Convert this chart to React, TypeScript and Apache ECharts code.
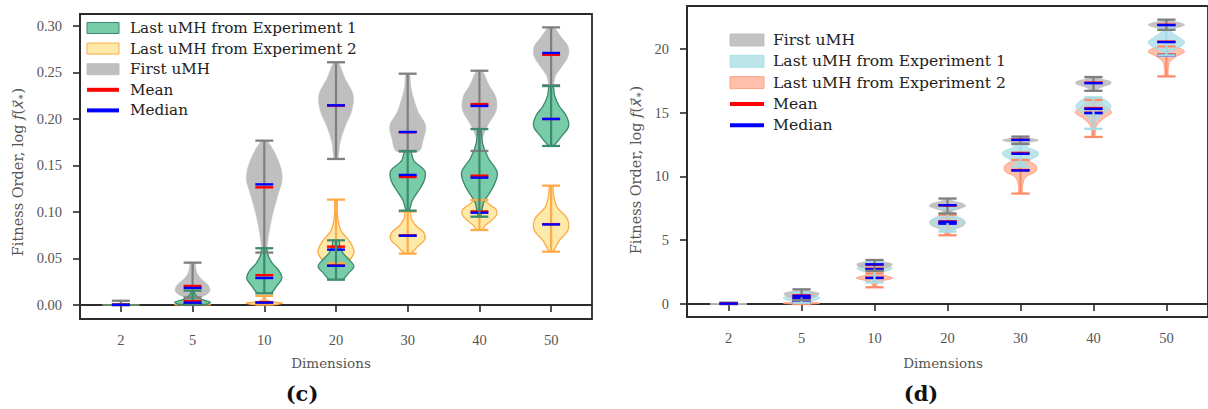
import React, { useEffect, useRef } from 'react';
import * as echarts from 'echarts';

const dimensions = ['2', '5', '10', '20', '30', '40', '50'];
const positions = [1, 2, 3, 4, 5, 6, 7];

const cYTicks = [0, 0.05, 0.1, 0.15, 0.2, 0.25, 0.3];
const dYTicks = [0, 5, 10, 15, 20];

// ---------- Panel (c) ----------
// First uMH
const cFirstMin = [0, 0.008, 0.0563, 0.157, 0.165, 0.1656, 0.2362];
const cFirstMax = [0.0045, 0.0455, 0.1767, 0.261, 0.2487, 0.2519, 0.2985];
const cFirstMean = [0.0008, 0.0204, 0.1265, 0.2143, 0.1858, 0.216, 0.269];
const cFirstMedian = [0.0004, 0.0183, 0.1297, 0.2147, 0.186, 0.214, 0.271];
const cFirstDensity = [
  [1, 0.2, 0.08, 0.05, 0.04, 0.03, 0.03],
  [0.4, 0.95, 0.9, 0.55, 0.28, 0.18, 0.12],
  [0.08, 0.25, 0.45, 0.73, 1.0, 0.75, 0.15],
  [0.1, 0.22, 0.5, 0.88, 0.95, 0.5, 0.12],
  [0.6, 0.88, 1.0, 0.6, 0.35, 0.17, 0.1],
  [0.08, 0.18, 0.5, 0.93, 0.92, 0.5, 0.15],
  [0.1, 0.25, 0.62, 0.95, 0.95, 0.56, 0.15],
];
// Last uMH from Experiment 1
const cExp1Min = [0, 0.0005, 0.0125, 0.0272, 0.1014, 0.0949, 0.171];
const cExp1Max = [0.0006, 0.0154, 0.061, 0.0695, 0.1656, 0.1892, 0.2354];
const cExp1Mean = [0.0002, 0.0043, 0.032, 0.0425, 0.1376, 0.139, 0.2];
const cExp1Median = [0.0001, 0.0025, 0.029, 0.0421, 0.1398, 0.1369, 0.2];
const cExp1Density = [
  [1, 0.6, 0.3, 0.15, 0.08, 0.05, 0.04],
  [0.7, 1.0, 0.6, 0.3, 0.18, 0.1, 0.07],
  [0.35, 0.7, 0.98, 0.82, 0.45, 0.22, 0.12],
  [0.35, 0.7, 1.0, 0.75, 0.4, 0.22, 0.15],
  [0.08, 0.25, 0.6, 0.92, 0.95, 0.35, 0.15],
  [0.06, 0.25, 0.75, 1.0, 0.5, 0.18, 0.08],
  [0.12, 0.6, 0.98, 0.85, 0.45, 0.2, 0.1],
];
// Last uMH from Experiment 2
const cExp2Min = [0, 0, 0.0005, 0.045, 0.0552, 0.0806, 0.0573];
const cExp2Max = [0.0003, 0.002, 0.0098, 0.1133, 0.1005, 0.1129, 0.1283];
const cExp2Mean = [0.0001, 0.0009, 0.003, 0.0627, 0.0748, 0.1006, 0.0869];
const cExp2Median = [0.0001, 0.0008, 0.0025, 0.0595, 0.0745, 0.0992, 0.0866];
const cExp2Density = [
  [1, 0.3, 0.1, 0.05, 0.03, 0.02, 0.02],
  [1, 0.9, 0.5, 0.2, 0.1, 0.05, 0.03],
  [0.6, 1.0, 0.35, 0.12, 0.06, 0.05, 0.05],
  [0.5, 1.0, 0.78, 0.3, 0.12, 0.07, 0.06],
  [0.15, 0.55, 0.95, 0.9, 0.45, 0.2, 0.12],
  [0.12, 0.35, 0.7, 0.95, 0.95, 0.6, 0.2],
  [0.1, 0.45, 0.95, 0.9, 0.35, 0.15, 0.08],
];

// ---------- Panel (d) ----------
const dFirstMin = [0, 0.3, 2.6, 7.1, 12.56, 16.72, 21.5];
const dFirstMax = [0.1, 1.15, 3.45, 8.27, 13.13, 17.8, 22.3];
const dFirstMean = [0.04, 0.67, 3.08, 7.72, 12.88, 17.36, 21.9];
const dFirstMedian = [0.03, 0.63, 3.11, 7.75, 12.87, 17.32, 21.87];
const dFirstDensity = [
  [1, 0.5, 0.25, 0.12, 0.06, 0.04, 0.03],
  [0.2, 0.45, 0.75, 0.95, 0.95, 0.5, 0.15],
  [0.15, 0.4, 0.75, 0.95, 0.95, 0.5, 0.12],
  [0.1, 0.3, 0.7, 1.0, 0.85, 0.35, 0.1],
  [0.15, 0.4, 0.8, 1.0, 0.8, 0.4, 0.15],
  [0.1, 0.3, 0.6, 0.95, 0.95, 0.5, 0.15],
  [0.1, 0.4, 0.85, 1.0, 0.8, 0.4, 0.12],
];
const dExp1Min = [0, 0.1, 1.7, 5.68, 10.78, 13.74, 19.5];
const dExp1Max = [0.1, 0.9, 3.3, 7.5, 12.5, 16.2, 21.6];
const dExp1Mean = [0.03, 0.5, 2.76, 6.48, 11.85, 15.36, 20.57];
const dExp1Median = [0.02, 0.45, 2.72, 6.44, 11.78, 15.3, 20.54];
const dExp1Density = [
  [1, 0.5, 0.25, 0.12, 0.06, 0.04, 0.03],
  [0.2, 0.55, 0.9, 1.0, 0.7, 0.35, 0.1],
  [0.08, 0.12, 0.2, 0.5, 0.95, 0.8, 0.2],
  [0.15, 0.55, 0.95, 0.9, 0.5, 0.25, 0.1],
  [0.1, 0.3, 0.6, 0.95, 0.95, 0.5, 0.15],
  [0.05, 0.1, 0.25, 0.6, 0.95, 0.85, 0.3],
  [0.15, 0.35, 0.8, 1.0, 0.7, 0.35, 0.15],
];
const dExp2Min = [0, 0, 1.31, 5.39, 8.66, 13.1, 17.85];
const dExp2Max = [0.05, 0.4, 2.4, 7.0, 11.3, 16.0, 20.2];
const dExp2Mean = [0.02, 0.17, 2.06, 6.35, 10.5, 15.0, 19.55];
const dExp2Median = [0.01, 0.16, 2.04, 6.3, 10.47, 14.97, 19.5];
const dExp2Density = [
  [1, 0.5, 0.25, 0.12, 0.06, 0.04, 0.03],
  [0.6, 1.0, 0.6, 0.25, 0.1, 0.05, 0.03],
  [0.1, 0.12, 0.2, 0.55, 1.0, 0.6, 0.15],
  [0.1, 0.2, 0.5, 0.9, 0.95, 0.45, 0.1],
  [0.08, 0.1, 0.15, 0.3, 0.85, 0.85, 0.25],
  [0.08, 0.1, 0.2, 0.55, 1.0, 0.6, 0.15],
  [0.08, 0.09, 0.12, 0.2, 0.55, 1.0, 0.35],
];

const legendC = ['Last uMH from Experiment 1', 'Last uMH from Experiment 2', 'First uMH', 'Mean', 'Median'];
const legendD = ['First uMH', 'Last uMH from Experiment 1', 'Last uMH from Experiment 2', 'Mean', 'Median'];

const MEAN_COLOR = '#ff0000';
const MEDIAN_COLOR = '#0000ff';

type Sty = { fill: string; edge: string; edgeWidth: number; cap: string; opacity: number };

const STY = {
  cGray: { fill: '#bfbfbf', edge: '#bfbfbf', edgeWidth: 0.5, cap: '#7f7f7f', opacity: 1 },
  cGreen: { fill: '#79cca9', edge: '#3a8a6a', edgeWidth: 1.3, cap: '#3d8b6d', opacity: 1 },
  cYellow: { fill: '#feeaa8', edge: '#fdab4a', edgeWidth: 1.3, cap: '#ffab48', opacity: 1 },
  dGray: { fill: '#b8b8b8', edge: '#b8b8b8', edgeWidth: 0.5, cap: '#7f7f7f', opacity: 0.85 },
  dBlue: { fill: '#aadde6', edge: '#a3dbe6', edgeWidth: 1, cap: '#a6dce6', opacity: 0.8 },
  dSalmon: { fill: '#ffb49b', edge: '#ff9a7a', edgeWidth: 1, cap: '#ff8c69', opacity: 0.85 },
};

function violin(
  name: string,
  axis: number,
  mins: number[],
  maxs: number[],
  means: number[],
  medians: number[],
  density: number[][],
  s: Sty
): any[] {
  const data = positions.map((p, i) => [p, mins[i], maxs[i], means[i], medians[i]]);
  const body = {
    type: 'custom',
    name,
    xAxisIndex: axis,
    yAxisIndex: axis,
    z: 2,
    encode: { x: 0, y: [1, 2] },
    data,
    renderItem: (params: any, api: any) => {
      const i = params.dataIndex;
      const p = api.value(0);
      const lo = api.value(1);
      const hi = api.value(2);
      const prof = density[i];
      const n = prof.length;
      const half = api.size([0.25, 0])[0];
      const c0 = api.coord([p, lo]);
      const c1 = api.coord([p, hi]);
      const cx = c0[0];
      const right: number[][] = [];
      const left: number[][] = [];
      for (let k = 0; k < n; k++) {
        const v = lo + ((hi - lo) * k) / (n - 1);
        const y = api.coord([p, v])[1];
        const w = Math.max(prof[k] * half, 0.6);
        right.push([cx + w, y]);
        left.unshift([cx - w, y]);
      }
      return {
        type: 'polygon',
        shape: {
          points: right.concat(left),
          smooth: 0.35,
          smoothConstraint: [
            [cx - half - 1, c1[1]],
            [cx + half + 1, c0[1]],
          ],
        },
        style: { fill: s.fill, stroke: s.edge, lineWidth: s.edgeWidth, opacity: s.opacity },
      };
    },
  };
  const lines = {
    type: 'custom',
    name: name + ' lines',
    xAxisIndex: axis,
    yAxisIndex: axis,
    z: 3,
    encode: { x: 0, y: [1, 2] },
    data,
    renderItem: (params: any, api: any) => {
      const p = api.value(0);
      const cw = api.size([0.125, 0])[0];
      const cx = api.coord([p, api.value(1)])[0];
      const yLo = api.coord([p, api.value(1)])[1];
      const yHi = api.coord([p, api.value(2)])[1];
      const yMean = api.coord([p, api.value(3)])[1];
      const yMed = api.coord([p, api.value(4)])[1];
      const hl = (y: number, color: string, lw: number) => ({
        type: 'line',
        shape: { x1: cx - cw, y1: y, x2: cx + cw, y2: y },
        style: { stroke: color, lineWidth: lw },
      });
      return {
        type: 'group',
        children: [
          { type: 'line', shape: { x1: cx, y1: yLo, x2: cx, y2: yHi }, style: { stroke: s.cap, lineWidth: 2.2 } },
          hl(yLo, s.cap, 2.3),
          hl(yHi, s.cap, 2.3),
          hl(yMean, MEAN_COLOR, 2.4),
          hl(yMed, MEDIAN_COLOR, 2.4),
        ],
      };
    },
  };
  return [body, lines];
}

const TICK_FONT = '"Liberation Serif", "Times New Roman", serif';
const TEXT_FONT = '"DejaVu Serif", serif';

function xAxis(grid: number): any {
  return {
    type: 'value',
    gridIndex: grid,
    min: 0.43,
    max: 7.57,
    axisLine: { show: true, lineStyle: { color: '#2b2b2b', width: 1.8 } },
    axisTick: { show: true, customValues: positions, length: 7, lineStyle: { color: '#2b2b2b', width: 1.6 } },
    axisLabel: {
      customValues: positions,
      formatter: (v: number) => dimensions[Math.round(v) - 1],
      margin: 13,
      color: '#555',
      fontFamily: TICK_FONT,
      fontSize: 14.5,
    },
    splitLine: { show: false },
  };
}

function yAxis(grid: number, min: number, max: number, ticks: number[], fmt: (v: number) => string): any {
  return {
    type: 'value',
    gridIndex: grid,
    min,
    max,
    axisLine: { show: true, lineStyle: { color: '#2b2b2b', width: 1.8 } },
    axisTick: { show: true, customValues: ticks, length: 7, lineStyle: { color: '#2b2b2b', width: 1.6 } },
    axisLabel: {
      customValues: ticks,
      formatter: fmt,
      margin: 18,
      color: '#555',
      fontFamily: TICK_FONT,
      fontSize: 14.5,
    },
    splitLine: { show: false },
  };
}

function legend(
  x0: number,
  y0: number,
  dy: number,
  pw: number,
  ph: number,
  tx: number,
  fs: number,
  labels: string[],
  stys: Sty[]
): any[] {
  const out: any[] = [];
  labels.forEach((lab, k) => {
    const yc = y0 + dy * k;
    if (k < 3) {
      const s = stys[k];
      out.push({
        type: 'rect',
        shape: { x: x0, y: yc - ph / 2, width: pw, height: ph },
        style: { fill: s.fill, stroke: s.edge, lineWidth: 1, opacity: s.opacity },
      });
    } else {
      out.push({
        type: 'rect',
        shape: { x: x0, y: yc - 2, width: pw, height: 4 },
        style: { fill: k === 3 ? MEAN_COLOR : MEDIAN_COLOR },
      });
    }
    out.push({
      type: 'text',
      x: tx,
      y: yc,
      style: { text: lab, fontFamily: TEXT_FONT, fontSize: fs, fill: '#222', align: 'left', verticalAlign: 'middle' },
    });
  });
  return out;
}

function yTitle(x: number, y: number): any {
  return {
    type: 'text',
    x,
    y,
    rotation: Math.PI / 2,
    style: {
      text: 'Fitness Order, log {i|f}({v|x\u20d7}{s|\u2217})',
      fontFamily: TEXT_FONT,
      fontSize: 14.5,
      fill: '#555',
      align: 'center',
      verticalAlign: 'middle',
      rich: {
        i: { fontFamily: TEXT_FONT, fontStyle: 'italic', fontSize: 14.5, fill: '#555' },
        v: { fontFamily: '"DejaVu Sans", sans-serif', fontStyle: 'italic', fontSize: 14.5, fill: '#555' },
        s: { fontFamily: TEXT_FONT, fontSize: 10, fill: '#555', verticalAlign: 'bottom' },
      },
    },
  };
}

function plainText(x: number, y: number, text: string, size: number, bold: boolean, color: string): any {
  return {
    type: 'text',
    x,
    y,
    style: {
      text,
      fontFamily: TEXT_FONT,
      fontSize: size,
      fontWeight: bold ? 'bold' : 'normal',
      fill: color,
      align: 'center',
      verticalAlign: 'middle',
    },
  };
}

export default function App() {
  const ref = useRef<HTMLDivElement>(null);
  useEffect(() => {
    if (!ref.current) return;
    const chart = echarts.init(ref.current, undefined, { renderer: 'svg' });
    const option: any = {
      animation: false,
      backgroundColor: '#ffffff',
      grid: [
        { left: 80, top: 14, width: 512, height: 305, show: true, borderColor: '#2b2b2b', borderWidth: 1.8 },
        { left: 687, top: 6, right: -2, height: 311, show: true, borderColor: '#2b2b2b', borderWidth: 1.8 },
      ],
      xAxis: [xAxis(0), xAxis(1)],
      yAxis: [
        yAxis(0, -0.0151, 0.3129, cYTicks, (v: number) => v.toFixed(2)),
        yAxis(1, -1.02, 23.37, dYTicks, (v: number) => String(Math.round(v))),
      ],
      series: [
        ...violin('First uMH (c)', 0, cFirstMin, cFirstMax, cFirstMean, cFirstMedian, cFirstDensity, STY.cGray),
        ...violin('Exp2 (c)', 0, cExp2Min, cExp2Max, cExp2Mean, cExp2Median, cExp2Density, STY.cYellow),
        ...violin('Exp1 (c)', 0, cExp1Min, cExp1Max, cExp1Mean, cExp1Median, cExp1Density, STY.cGreen),
        ...violin('Exp2 (d)', 1, dExp2Min, dExp2Max, dExp2Mean, dExp2Median, dExp2Density, STY.dSalmon),
        ...violin('Exp1 (d)', 1, dExp1Min, dExp1Max, dExp1Mean, dExp1Median, dExp1Density, STY.dBlue),
        ...violin('First uMH (d)', 1, dFirstMin, dFirstMax, dFirstMean, dFirstMedian, dFirstDensity, STY.dGray),
      ],
      graphic: [
        ...legend(87, 28, 20.6, 32, 11, 130, 15.2, legendC, [STY.cGreen, STY.cYellow, STY.cGray]),
        ...legend(730, 40, 21.3, 34, 12, 773, 15.6, legendD, [STY.dGray, STY.dBlue, STY.dSalmon]),
        yTitle(18, 172),
        yTitle(636, 170),
        plainText(331, 363, 'Dimensions', 13.5, false, '#555'),
        plainText(943, 363, 'Dimensions', 13.5, false, '#555'),
        plainText(302, 393, '(c)', 21, true, '#111'),
        plainText(921, 393, '(d)', 21, true, '#111'),
      ],
    };
    chart.setOption(option);
    return () => chart.dispose();
  }, []);
  return (
    <div
      ref={ref}
      style={{ position: 'fixed', left: 0, top: 0, width: 1208, height: 409, background: '#fff' }}
    />
  );
}
